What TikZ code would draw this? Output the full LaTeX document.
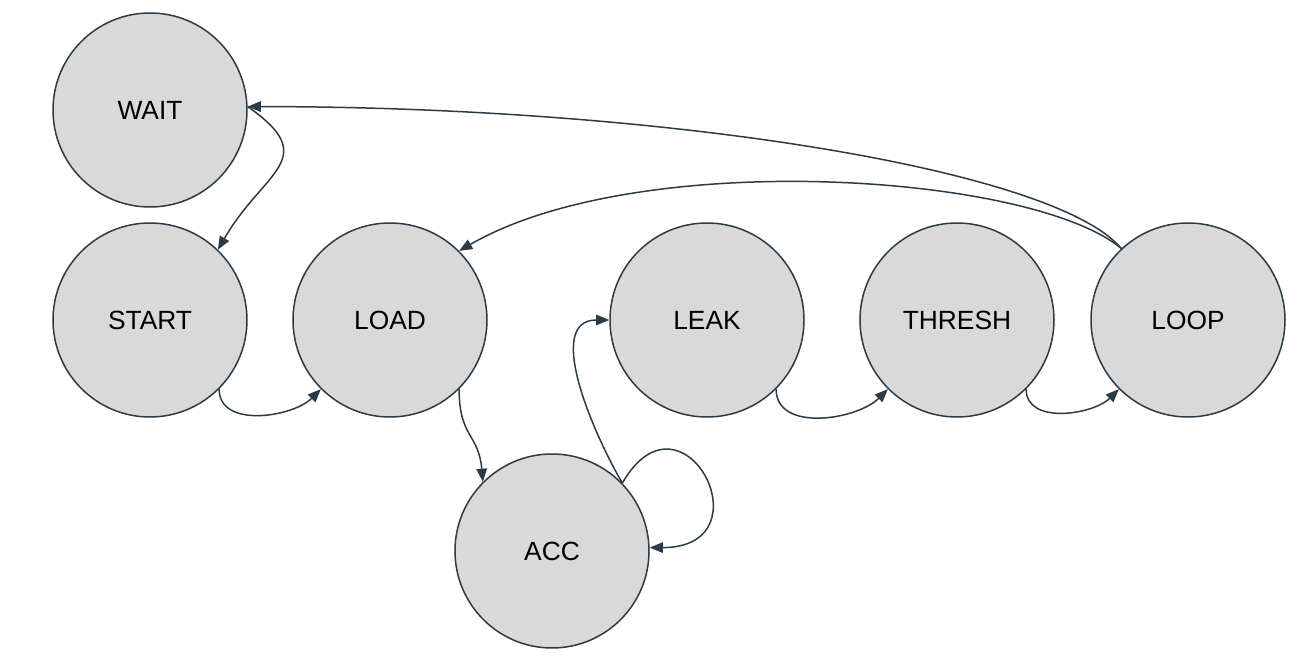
\documentclass[tikz,border=0pt]{standalone}
\usepackage{fontspec}
\setmainfont{Liberation Sans}
\usetikzlibrary{arrows.meta}
\definecolor{statefill}{HTML}{D9D9D9}
\definecolor{edgecolor}{HTML}{2B3A47}
\begin{document}
\begin{tikzpicture}
[statedecorate/.style={shape=circle,minimum size=3.88cm,inner sep=0pt,draw=edgecolor,
   fill=statefill,line width=0.85pt,font=\fontsize{15}{18}\selectfont},%
  linedecorate/.style={-{Triangle[length=7.5pt,width=6pt]},draw=edgecolor,line width=0.85pt}]
\useasboundingbox (0,0) rectangle (26.2,13.36);
%% nodes or vertices
\foreach \nodename/\x/\y in {WAIT/3.0/11.16, START/3.0/6.96, LOAD/7.8/6.96,
  LEAK/14.14/6.96, THRESH/19.14/6.96, LOOP/23.76/6.96, ACC/11.04/2.34} {
  \node (\nodename) at (\x,\y) [statedecorate] {\nodename};
}
%% edges or lines
\path
\foreach \startnode/\endnode in {START/LOAD, LEAK/THRESH, THRESH/LOOP} {
  (\startnode.-45) edge[linedecorate,out=-90,in=-135] (\endnode.-135)
};
\path (WAIT.2) edge[linedecorate,out=-35,in=60,looseness=1.6] (START.46);
\path (LOAD.-45) edge[linedecorate,out=-90,in=95,looseness=1.3] (ACC.135);
\path (ACC.44) edge[linedecorate,out=120,in=180] (LEAK.west);
\path (ACC.44) edge[linedecorate,out=60,in=0,looseness=4.4] (ACC.2);
\path (LOOP.133) edge[linedecorate,out=130,in=0,out looseness=0.3,in looseness=1.2] (WAIT.2);
\path (LOOP.133) edge[linedecorate,out=140,in=30,out looseness=0.45,in looseness=0.8] (LOAD.45);
\end{tikzpicture}
\end{document}
